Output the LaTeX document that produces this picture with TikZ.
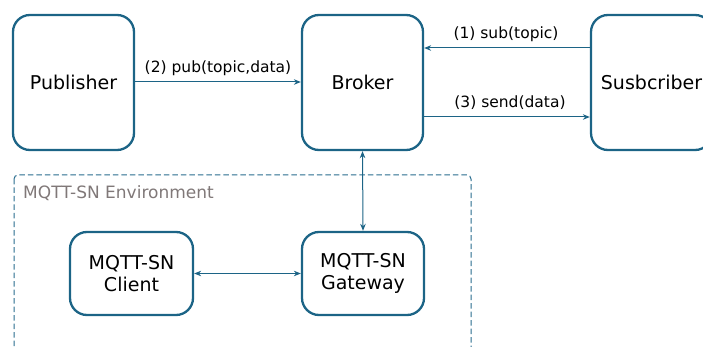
\documentclass[tikz,border=0pt]{standalone}
\usepackage{fontspec}
\setmainfont{DejaVu Sans}
\usetikzlibrary{arrows.meta}
\definecolor{boxblue}{RGB}{28,100,134}
\definecolor{dashblue}{RGB}{40,108,142}
\definecolor{envgray}{RGB}{128,120,120}
\tikzset{
  box/.style={draw=boxblue, line width=2.3pt, rounded corners=17pt, inner sep=0pt, align=center, font=\fontsize{19}{22.5}\selectfont},
  conn/.style={draw=boxblue, line width=1pt, -{Stealth[length=7pt,width=5.5pt]}},
  bconn/.style={draw=boxblue, line width=1pt, {Stealth[length=7pt,width=5.5pt]}-{Stealth[length=7pt,width=5.5pt]}},
  lbl/.style={font=\fontsize{15.5}{18}\selectfont, inner sep=0pt}
}
\begin{document}
\begin{tikzpicture}[x=1pt,y=-1pt]
\useasboundingbox (0,0) rectangle (703,347);
\clip (0,0) rectangle (703,347);
% environment
\draw[dashblue, line width=1pt, dash pattern=on 5.5pt off 3pt, rounded corners=4pt] (14,175) rectangle (471,370);
\node[anchor=west, text=envgray, font=\fontsize{17}{20}\selectfont, inner sep=0pt] (env) at (23,193) {MQTT-SN Environment};
% boxes
\node[box, minimum width=121pt, minimum height=135pt] (pub) at (73.5,82.5) {Publisher};
\node[box, minimum width=121pt, minimum height=135pt] (brk) at (362.5,82.5) {Broker};
\node[box, minimum width=121pt, minimum height=135pt] (sub) at (651.5,82.5) {Susbcriber};
\node[box, minimum width=123pt, minimum height=83pt] (cli) at (131.5,273.5) {MQTT-SN\\Client};
\node[box, minimum width=122pt, minimum height=83pt] (gw) at (363,273.5) {MQTT-SN\\Gateway};
% connectors
\coordinate (p1) at (pub.east |- 0,82);
\coordinate (b1) at (brk.west |- 0,82);
\draw[conn] (p1) -- (b1);
\node[lbl] (l2) at (218,68) {(2) pub(topic,data)};
\coordinate (s1) at (sub.west |- 0,48);
\coordinate (b2) at (brk.east |- 0,48);
\draw[conn] (s1) -- (b2);
\node[lbl] (l1) at (506,34) {(1) sub(topic)};
\coordinate (b3) at (brk.east |- 0,117);
\coordinate (s3) at (sub.west |- 0,117);
\draw[conn] (b3) -- (s3);
\node[lbl] (l3) at (510,103) {(3) send(data)};
\draw[bconn] (brk.south) -- (gw.north);
\draw[bconn] (cli.east) -- (gw.west);
\end{tikzpicture}
\end{document}
